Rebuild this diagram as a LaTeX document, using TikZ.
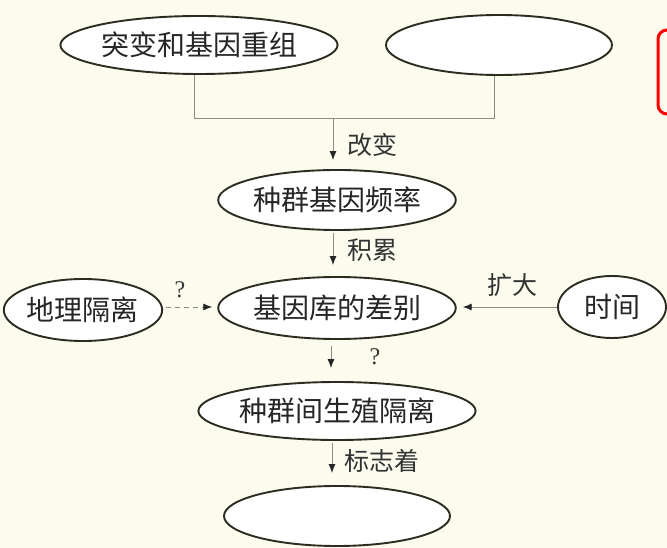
\documentclass[tikz,border=0pt]{standalone}
\usepackage{fontspec}
\setmainfont{Liberation Serif}
\newfontfamily\cjk{Noto Sans CJK SC}
\usetikzlibrary{shapes.geometric,arrows.meta}
\definecolor{bgcream}{RGB}{252,252,238}
\definecolor{ellline}{RGB}{44,44,32}
\definecolor{conngray}{RGB}{140,140,130}
\begin{document}
\begin{tikzpicture}[x=1pt,y=-1pt,
  ell/.style={ellipse,draw=ellline,line width=1.9pt,fill=white,inner sep=0pt,
    font=\cjk\fontsize{28}{30}\selectfont,text=black!85},
  conn/.style={draw=conngray,line width=0.9pt},
  arr/.style={conn,-{Latex[length=9pt,width=7pt,color=black!85]}},
  lab/.style={font=\cjk\fontsize{25}{27}\selectfont,text=black!80,inner sep=0pt},
  qlab/.style={font=\fontsize{24}{26}\selectfont,text=black!80,inner sep=0pt}]
\useasboundingbox (0,0) rectangle (667,548);
\fill[bgcream] (0,0) rectangle (667,548);
\clip (0,0) rectangle (667,548);
% nodes
\node[ell,minimum width=216pt,minimum height=58pt] (e1) at (199,45) {突变和基因重组};
\node[ell,minimum width=226pt,minimum height=60pt] (e2) at (499,45) {};
\node[ell,minimum width=222pt,minimum height=60pt] (e3) at (337,200) {种群基因频率};
\node[ell,minimum width=226pt,minimum height=62pt] (e4) at (337,308) {基因库的差别};
\node[ell,minimum width=148pt,minimum height=62pt] (e5) at (83,310) {地理隔离};
\node[ell,minimum width=108pt,minimum height=62pt] (e6) at (612,307) {时间};
\node[ell,minimum width=224pt,minimum height=58pt] (e7) at (337,411) {种群间生殖隔离};
\node[ell,minimum width=226pt,minimum height=60pt] (e8) at (337,516) {};
% red box
\draw[red,line width=3pt,rounded corners=9pt] (658,30) rectangle (700,114);
% connectors
\coordinate (j1) at (194,118);
\coordinate (j2) at (494,118);
\coordinate (jm) at (333,118);
\draw[conn] ([xshift=-5pt]e1.south) |- (j1) -- (j2) -| ([xshift=-5pt]e2.south);
\draw[arr,shorten >=9pt] (jm) -- (jm |- e3.north);
\draw[arr,shorten >=11pt,shorten <=2pt] ([xshift=-4pt]e3.south) -- ([xshift=-4pt]e4.north);
\draw[arr,dash pattern=on 5pt off 4pt,shorten >=5pt,shorten <=3pt] (e5.east |- 0,307) -- (e4.west |- 0,307);
\draw[arr,shorten >=6pt] (e6.west |- 0,307) -- (e4.east |- 0,307);
\draw[arr,shorten >=13pt,shorten <=6pt] ([xshift=-6pt]e4.south) -- ([xshift=-6pt]e7.north);
\draw[arr,shorten >=12pt,shorten <=2pt] ([xshift=-5pt]e7.south) -- ([xshift=-5pt]e8.north);
% labels
\node[lab] (l1) at (372,145) {改变};
\node[lab] (l2) at (372,250) {积累};
\node[qlab] (q1) at (180,290) {?};
\node[lab] (l3) at (512,285) {扩大};
\node[qlab] (q2) at (375,357) {?};
\node[lab] (l4) at (382,461) {标志着};
\end{tikzpicture}
\end{document}
